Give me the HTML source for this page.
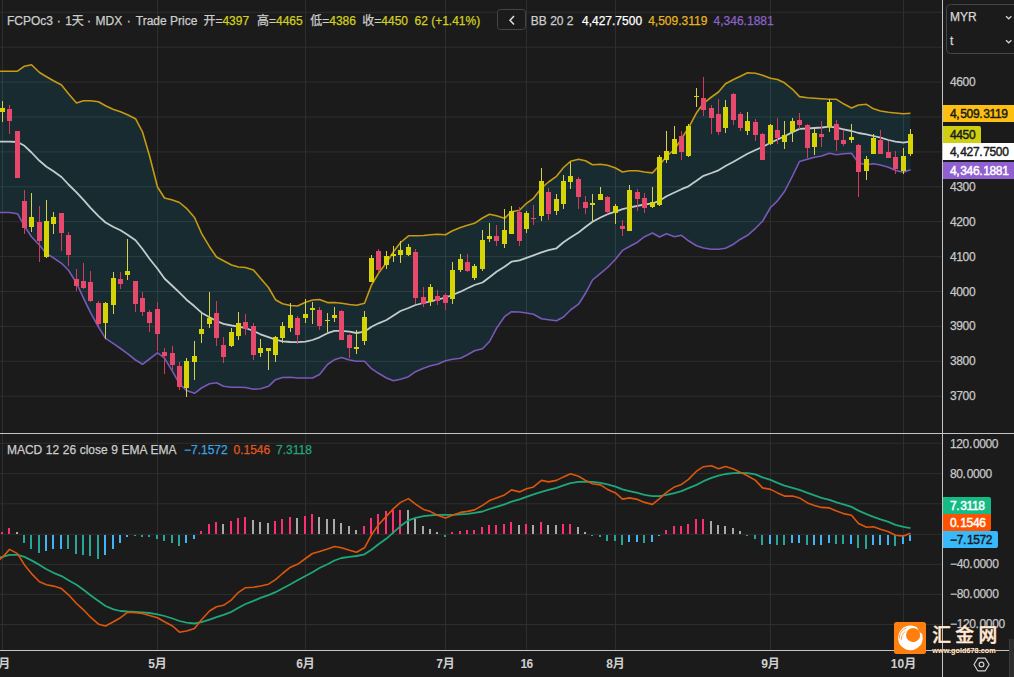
<!DOCTYPE html>
<html><head><meta charset="utf-8"><title>FCPOc3</title>
<style>
html,body{margin:0;padding:0;background:#1b1b1b;}
body{width:1014px;height:677px;overflow:hidden;position:relative;font-family:"Liberation Sans","Noto Sans CJK SC",sans-serif;}
#t i{font-style:normal;letter-spacing:0.69px;}
#t span{position:absolute;white-space:nowrap;line-height:1.117;-webkit-text-stroke:0.25px currentColor;}
</style></head><body>
<svg width="1014" height="677" viewBox="0 0 1014 677" style="position:absolute;left:0;top:0">
<rect width="1014" height="677" fill="#1b1b1b"/>
<path d="M0 12.3H942M0 47.2H942M0 82.1H942M0 117.0H942M0 151.9H942M0 186.8H942M0 221.7H942M0 256.6H942M0 291.5H942M0 326.4H942M0 361.3H942M0 396.2H942M0 443.3H942M0 473.7H942M0 503.8H942M0 534.3H942M0 564.4H942M0 594.4H942M0 624.5H942" stroke="#2e2e2e" stroke-width="1" fill="none"/>
<path d="M2.5 0V433M2.5 434V650M157.5 0V433M157.5 434V650M305.5 0V433M305.5 434V650M445.5 0V433M445.5 434V650M526.5 0V433M526.5 434V650M615.5 0V433M615.5 434V650M770.5 0V433M770.5 434V650M903.5 0V433M903.5 434V650" stroke="#2e2e2e" stroke-width="1" fill="none" shape-rendering="crispEdges"/>
<polygon points="-5.0,71.3 2.5,71.3 9.5,71.3 17.5,71.2 24.5,66.2 31.5,64.7 39.5,72.5 46.5,76.7 53.5,80.8 61.5,85.0 68.5,93.8 76.5,103.0 83.5,100.8 90.5,100.8 98.5,101.7 105.5,105.8 113.5,109.5 120.5,111.7 127.5,114.7 135.5,118.7 142.5,132.0 149.5,155.8 157.5,187.0 164.5,198.0 172.5,200.0 179.5,202.5 186.5,208.3 194.5,217.5 201.5,233.3 209.5,246.7 216.5,257.0 223.5,260.8 231.5,265.0 238.5,267.0 245.5,267.5 253.5,270.0 260.5,278.3 268.5,287.5 275.5,299.7 282.5,303.8 290.5,305.5 297.5,306.0 305.5,302.2 312.5,300.0 319.5,299.5 327.5,302.6 334.5,302.5 341.5,303.3 349.5,304.5 356.5,305.3 364.5,303.3 371.5,285.0 378.5,273.3 386.5,262.5 393.5,251.7 400.5,242.5 408.5,235.8 415.5,235.8 423.5,235.5 430.5,234.7 437.5,234.2 445.5,234.7 452.5,230.8 460.5,227.5 467.5,225.3 474.5,223.3 482.5,218.0 489.5,214.2 496.5,215.8 504.5,218.3 511.5,211.7 519.5,210.3 526.5,203.3 533.5,198.3 541.5,188.0 548.5,182.0 556.5,176.3 563.5,167.5 570.5,161.3 578.5,159.2 585.5,160.8 592.5,164.7 600.5,164.2 607.5,165.3 615.5,168.0 622.5,172.0 629.5,170.8 637.5,170.8 644.5,172.0 652.5,172.9 659.5,165.3 666.5,156.2 674.5,149.5 681.5,138.7 688.5,127.8 696.5,112.8 703.5,103.3 711.5,97.0 718.5,92.0 725.5,83.7 733.5,79.5 740.5,76.2 747.5,72.8 755.5,73.3 762.5,75.3 770.5,78.3 777.5,79.5 784.5,82.8 792.5,89.3 799.5,96.6 807.5,97.7 814.5,98.3 821.5,98.8 829.5,99.3 836.5,99.3 843.5,103.8 851.5,108.0 858.5,105.0 866.5,104.3 873.5,108.8 880.5,111.0 888.5,112.2 895.5,113.0 903.5,113.8 910.5,113.3 910.5,169.7 903.5,172.2 895.5,170.5 888.5,167.2 880.5,165.0 873.5,163.8 866.5,164.7 858.5,163.0 851.5,153.3 843.5,153.8 836.5,154.7 829.5,153.3 821.5,156.0 814.5,157.2 807.5,159.2 799.5,161.5 792.5,176.0 784.5,191.5 777.5,200.8 770.5,207.5 762.5,221.3 755.5,228.3 747.5,235.3 740.5,239.2 733.5,244.2 725.5,248.3 718.5,249.2 711.5,249.2 703.5,248.0 696.5,245.8 688.5,240.8 681.5,235.3 674.5,236.7 666.5,233.7 659.5,237.0 652.5,233.0 644.5,236.7 637.5,242.2 629.5,246.5 622.5,250.4 615.5,259.2 607.5,267.5 600.5,273.3 592.5,280.0 585.5,293.3 578.5,304.2 570.5,310.0 563.5,317.0 556.5,320.8 548.5,319.7 541.5,318.7 533.5,314.2 526.5,313.0 519.5,312.0 511.5,311.7 504.5,316.7 496.5,328.3 489.5,341.5 482.5,348.7 474.5,350.8 467.5,354.7 460.5,358.3 452.5,359.2 445.5,360.8 437.5,364.2 430.5,365.8 423.5,368.3 415.5,371.7 408.5,376.7 400.5,379.2 393.5,380.8 386.5,378.0 378.5,373.3 371.5,368.7 364.5,361.3 356.5,361.3 349.5,360.0 341.5,357.5 334.5,359.7 327.5,364.5 319.5,374.5 312.5,378.0 305.5,378.0 297.5,378.0 290.5,377.2 282.5,377.5 275.5,379.7 268.5,386.3 260.5,388.8 253.5,389.2 245.5,387.5 238.5,387.2 231.5,387.2 223.5,386.3 216.5,382.7 209.5,383.8 201.5,388.0 194.5,393.3 186.5,390.5 179.5,383.8 172.5,371.3 164.5,358.1 157.5,352.8 149.5,359.0 142.5,364.3 135.5,360.0 127.5,353.7 120.5,348.5 113.5,343.7 105.5,338.3 98.5,327.0 90.5,312.7 83.5,298.2 76.5,283.0 68.5,270.3 61.5,263.3 53.5,257.8 46.5,253.7 39.5,245.3 31.5,236.7 24.5,226.2 17.5,213.7 9.5,212.5 2.5,212.5 -5.0,212.5" fill="#172b30"/>
<clipPath id="bbc"><polygon points="-5.0,71.3 2.5,71.3 9.5,71.3 17.5,71.2 24.5,66.2 31.5,64.7 39.5,72.5 46.5,76.7 53.5,80.8 61.5,85.0 68.5,93.8 76.5,103.0 83.5,100.8 90.5,100.8 98.5,101.7 105.5,105.8 113.5,109.5 120.5,111.7 127.5,114.7 135.5,118.7 142.5,132.0 149.5,155.8 157.5,187.0 164.5,198.0 172.5,200.0 179.5,202.5 186.5,208.3 194.5,217.5 201.5,233.3 209.5,246.7 216.5,257.0 223.5,260.8 231.5,265.0 238.5,267.0 245.5,267.5 253.5,270.0 260.5,278.3 268.5,287.5 275.5,299.7 282.5,303.8 290.5,305.5 297.5,306.0 305.5,302.2 312.5,300.0 319.5,299.5 327.5,302.6 334.5,302.5 341.5,303.3 349.5,304.5 356.5,305.3 364.5,303.3 371.5,285.0 378.5,273.3 386.5,262.5 393.5,251.7 400.5,242.5 408.5,235.8 415.5,235.8 423.5,235.5 430.5,234.7 437.5,234.2 445.5,234.7 452.5,230.8 460.5,227.5 467.5,225.3 474.5,223.3 482.5,218.0 489.5,214.2 496.5,215.8 504.5,218.3 511.5,211.7 519.5,210.3 526.5,203.3 533.5,198.3 541.5,188.0 548.5,182.0 556.5,176.3 563.5,167.5 570.5,161.3 578.5,159.2 585.5,160.8 592.5,164.7 600.5,164.2 607.5,165.3 615.5,168.0 622.5,172.0 629.5,170.8 637.5,170.8 644.5,172.0 652.5,172.9 659.5,165.3 666.5,156.2 674.5,149.5 681.5,138.7 688.5,127.8 696.5,112.8 703.5,103.3 711.5,97.0 718.5,92.0 725.5,83.7 733.5,79.5 740.5,76.2 747.5,72.8 755.5,73.3 762.5,75.3 770.5,78.3 777.5,79.5 784.5,82.8 792.5,89.3 799.5,96.6 807.5,97.7 814.5,98.3 821.5,98.8 829.5,99.3 836.5,99.3 843.5,103.8 851.5,108.0 858.5,105.0 866.5,104.3 873.5,108.8 880.5,111.0 888.5,112.2 895.5,113.0 903.5,113.8 910.5,113.3 910.5,169.7 903.5,172.2 895.5,170.5 888.5,167.2 880.5,165.0 873.5,163.8 866.5,164.7 858.5,163.0 851.5,153.3 843.5,153.8 836.5,154.7 829.5,153.3 821.5,156.0 814.5,157.2 807.5,159.2 799.5,161.5 792.5,176.0 784.5,191.5 777.5,200.8 770.5,207.5 762.5,221.3 755.5,228.3 747.5,235.3 740.5,239.2 733.5,244.2 725.5,248.3 718.5,249.2 711.5,249.2 703.5,248.0 696.5,245.8 688.5,240.8 681.5,235.3 674.5,236.7 666.5,233.7 659.5,237.0 652.5,233.0 644.5,236.7 637.5,242.2 629.5,246.5 622.5,250.4 615.5,259.2 607.5,267.5 600.5,273.3 592.5,280.0 585.5,293.3 578.5,304.2 570.5,310.0 563.5,317.0 556.5,320.8 548.5,319.7 541.5,318.7 533.5,314.2 526.5,313.0 519.5,312.0 511.5,311.7 504.5,316.7 496.5,328.3 489.5,341.5 482.5,348.7 474.5,350.8 467.5,354.7 460.5,358.3 452.5,359.2 445.5,360.8 437.5,364.2 430.5,365.8 423.5,368.3 415.5,371.7 408.5,376.7 400.5,379.2 393.5,380.8 386.5,378.0 378.5,373.3 371.5,368.7 364.5,361.3 356.5,361.3 349.5,360.0 341.5,357.5 334.5,359.7 327.5,364.5 319.5,374.5 312.5,378.0 305.5,378.0 297.5,378.0 290.5,377.2 282.5,377.5 275.5,379.7 268.5,386.3 260.5,388.8 253.5,389.2 245.5,387.5 238.5,387.2 231.5,387.2 223.5,386.3 216.5,382.7 209.5,383.8 201.5,388.0 194.5,393.3 186.5,390.5 179.5,383.8 172.5,371.3 164.5,358.1 157.5,352.8 149.5,359.0 142.5,364.3 135.5,360.0 127.5,353.7 120.5,348.5 113.5,343.7 105.5,338.3 98.5,327.0 90.5,312.7 83.5,298.2 76.5,283.0 68.5,270.3 61.5,263.3 53.5,257.8 46.5,253.7 39.5,245.3 31.5,236.7 24.5,226.2 17.5,213.7 9.5,212.5 2.5,212.5 -5.0,212.5"/></clipPath>
<path d="M0 12.3H942M0 47.2H942M0 82.1H942M0 117.0H942M0 151.9H942M0 186.8H942M0 221.7H942M0 256.6H942M0 291.5H942M0 326.4H942M0 361.3H942M0 396.2H942" stroke="#2a4045" stroke-width="1" fill="none" clip-path="url(#bbc)"/>
<path d="M2.5 0V433M157.5 0V433M305.5 0V433M445.5 0V433M526.5 0V433M615.5 0V433M770.5 0V433M903.5 0V433" stroke="#2a4045" stroke-width="1" fill="none" clip-path="url(#bbc)" shape-rendering="crispEdges"/>
<path d="M-5.0 141.7 L2.5 141.7 L9.5 141.7 L17.5 142.0 L24.5 145.8 L31.5 152.5 L39.5 160.8 L46.5 166.7 L53.5 171.3 L61.5 177.0 L68.5 184.5 L76.5 192.3 L83.5 199.8 L90.5 207.8 L98.5 216.2 L105.5 222.5 L113.5 227.0 L120.5 230.3 L127.5 234.7 L135.5 240.3 L142.5 249.0 L149.5 258.7 L157.5 268.7 L164.5 278.5 L172.5 286.0 L179.5 292.7 L186.5 299.7 L194.5 306.3 L201.5 312.7 L209.5 317.2 L216.5 321.0 L223.5 323.8 L231.5 325.5 L238.5 326.7 L245.5 328.0 L253.5 331.0 L260.5 334.3 L268.5 337.2 L275.5 339.7 L282.5 341.3 L290.5 342.0 L297.5 342.2 L305.5 341.7 L312.5 340.0 L319.5 337.3 L327.5 333.2 L334.5 330.8 L341.5 330.8 L349.5 331.7 L356.5 333.0 L364.5 331.7 L371.5 326.7 L378.5 323.3 L386.5 320.0 L393.5 315.5 L400.5 311.0 L408.5 308.0 L415.5 305.0 L423.5 303.0 L430.5 301.3 L437.5 299.7 L445.5 297.5 L452.5 295.0 L460.5 291.7 L467.5 288.3 L474.5 285.0 L482.5 282.5 L489.5 277.3 L496.5 271.7 L504.5 266.7 L511.5 261.7 L519.5 260.4 L526.5 257.8 L533.5 255.3 L541.5 252.3 L548.5 250.2 L556.5 248.3 L563.5 242.3 L570.5 237.5 L578.5 232.5 L585.5 227.0 L592.5 221.7 L600.5 217.5 L607.5 214.2 L615.5 211.7 L622.5 209.2 L629.5 207.5 L637.5 205.8 L644.5 204.5 L652.5 203.3 L659.5 200.8 L666.5 196.3 L674.5 192.5 L681.5 189.2 L688.5 186.3 L696.5 180.8 L703.5 175.8 L711.5 173.0 L718.5 170.3 L725.5 166.0 L733.5 161.7 L740.5 157.7 L747.5 153.7 L755.5 150.0 L762.5 147.0 L770.5 142.8 L777.5 139.5 L784.5 136.3 L792.5 132.1 L799.5 128.9 L807.5 128.5 L814.5 128.0 L821.5 127.5 L829.5 126.7 L836.5 127.7 L843.5 129.3 L851.5 131.0 L858.5 133.0 L866.5 134.3 L873.5 136.0 L880.5 137.7 L888.5 140.0 L895.5 141.7 L903.5 142.7 L910.5 141.3" stroke="#c3cccc" stroke-width="1.8" fill="none" stroke-linejoin="round" stroke-linecap="butt"/>
<path d="M-5.0 71.3 L2.5 71.3 L9.5 71.3 L17.5 71.2 L24.5 66.2 L31.5 64.7 L39.5 72.5 L46.5 76.7 L53.5 80.8 L61.5 85.0 L68.5 93.8 L76.5 103.0 L83.5 100.8 L90.5 100.8 L98.5 101.7 L105.5 105.8 L113.5 109.5 L120.5 111.7 L127.5 114.7 L135.5 118.7 L142.5 132.0 L149.5 155.8 L157.5 187.0 L164.5 198.0 L172.5 200.0 L179.5 202.5 L186.5 208.3 L194.5 217.5 L201.5 233.3 L209.5 246.7 L216.5 257.0 L223.5 260.8 L231.5 265.0 L238.5 267.0 L245.5 267.5 L253.5 270.0 L260.5 278.3 L268.5 287.5 L275.5 299.7 L282.5 303.8 L290.5 305.5 L297.5 306.0 L305.5 302.2 L312.5 300.0 L319.5 299.5 L327.5 302.6 L334.5 302.5 L341.5 303.3 L349.5 304.5 L356.5 305.3 L364.5 303.3 L371.5 285.0 L378.5 273.3 L386.5 262.5 L393.5 251.7 L400.5 242.5 L408.5 235.8 L415.5 235.8 L423.5 235.5 L430.5 234.7 L437.5 234.2 L445.5 234.7 L452.5 230.8 L460.5 227.5 L467.5 225.3 L474.5 223.3 L482.5 218.0 L489.5 214.2 L496.5 215.8 L504.5 218.3 L511.5 211.7 L519.5 210.3 L526.5 203.3 L533.5 198.3 L541.5 188.0 L548.5 182.0 L556.5 176.3 L563.5 167.5 L570.5 161.3 L578.5 159.2 L585.5 160.8 L592.5 164.7 L600.5 164.2 L607.5 165.3 L615.5 168.0 L622.5 172.0 L629.5 170.8 L637.5 170.8 L644.5 172.0 L652.5 172.9 L659.5 165.3 L666.5 156.2 L674.5 149.5 L681.5 138.7 L688.5 127.8 L696.5 112.8 L703.5 103.3 L711.5 97.0 L718.5 92.0 L725.5 83.7 L733.5 79.5 L740.5 76.2 L747.5 72.8 L755.5 73.3 L762.5 75.3 L770.5 78.3 L777.5 79.5 L784.5 82.8 L792.5 89.3 L799.5 96.6 L807.5 97.7 L814.5 98.3 L821.5 98.8 L829.5 99.3 L836.5 99.3 L843.5 103.8 L851.5 108.0 L858.5 105.0 L866.5 104.3 L873.5 108.8 L880.5 111.0 L888.5 112.2 L895.5 113.0 L903.5 113.8 L910.5 113.3" stroke="#c79a12" stroke-width="1.6" fill="none" stroke-linejoin="round" stroke-linecap="butt"/>
<path d="M-5.0 212.5 L2.5 212.5 L9.5 212.5 L17.5 213.7 L24.5 226.2 L31.5 236.7 L39.5 245.3 L46.5 253.7 L53.5 257.8 L61.5 263.3 L68.5 270.3 L76.5 283.0 L83.5 298.2 L90.5 312.7 L98.5 327.0 L105.5 338.3 L113.5 343.7 L120.5 348.5 L127.5 353.7 L135.5 360.0 L142.5 364.3 L149.5 359.0 L157.5 352.8 L164.5 358.1 L172.5 371.3 L179.5 383.8 L186.5 390.5 L194.5 393.3 L201.5 388.0 L209.5 383.8 L216.5 382.7 L223.5 386.3 L231.5 387.2 L238.5 387.2 L245.5 387.5 L253.5 389.2 L260.5 388.8 L268.5 386.3 L275.5 379.7 L282.5 377.5 L290.5 377.2 L297.5 378.0 L305.5 378.0 L312.5 378.0 L319.5 374.5 L327.5 364.5 L334.5 359.7 L341.5 357.5 L349.5 360.0 L356.5 361.3 L364.5 361.3 L371.5 368.7 L378.5 373.3 L386.5 378.0 L393.5 380.8 L400.5 379.2 L408.5 376.7 L415.5 371.7 L423.5 368.3 L430.5 365.8 L437.5 364.2 L445.5 360.8 L452.5 359.2 L460.5 358.3 L467.5 354.7 L474.5 350.8 L482.5 348.7 L489.5 341.5 L496.5 328.3 L504.5 316.7 L511.5 311.7 L519.5 312.0 L526.5 313.0 L533.5 314.2 L541.5 318.7 L548.5 319.7 L556.5 320.8 L563.5 317.0 L570.5 310.0 L578.5 304.2 L585.5 293.3 L592.5 280.0 L600.5 273.3 L607.5 267.5 L615.5 259.2 L622.5 250.4 L629.5 246.5 L637.5 242.2 L644.5 236.7 L652.5 233.0 L659.5 237.0 L666.5 233.7 L674.5 236.7 L681.5 235.3 L688.5 240.8 L696.5 245.8 L703.5 248.0 L711.5 249.2 L718.5 249.2 L725.5 248.3 L733.5 244.2 L740.5 239.2 L747.5 235.3 L755.5 228.3 L762.5 221.3 L770.5 207.5 L777.5 200.8 L784.5 191.5 L792.5 176.0 L799.5 161.5 L807.5 159.2 L814.5 157.2 L821.5 156.0 L829.5 153.3 L836.5 154.7 L843.5 153.8 L851.5 153.3 L858.5 163.0 L866.5 164.7 L873.5 163.8 L880.5 165.0 L888.5 167.2 L895.5 170.5 L903.5 172.2 L910.5 169.7" stroke="#7a58b8" stroke-width="1.6" fill="none" stroke-linejoin="round" stroke-linecap="butt"/>
<path d="M2 101h1v21h-1zM31 193h1v39h-1zM46 200h1v58h-1zM53 212h1v22h-1zM105 302h1v37h-1zM113 272h1v42h-1zM127 239h1v41h-1zM186 358h1v39h-1zM194 341h1v39h-1zM201 313h1v30h-1zM209 292h1v36h-1zM231 328h1v19h-1zM238 312h1v28h-1zM260 339h1v18h-1zM268 348h1v22h-1zM275 336h1v26h-1zM282 322h1v21h-1zM290 303h1v29h-1zM305 299h1v24h-1zM312 302h1v22h-1zM327 313h1v19h-1zM334 307h1v15h-1zM356 330h1v24h-1zM364 311h1v34h-1zM371 255h1v27h-1zM386 251h1v18h-1zM393 246h1v16h-1zM400 241h1v22h-1zM408 244h1v12h-1zM430 284h1v22h-1zM452 262h1v42h-1zM460 254h1v18h-1zM474 264h1v16h-1zM482 230h1v41h-1zM489 223h1v19h-1zM504 209h1v39h-1zM511 206h1v28h-1zM526 211h1v22h-1zM541 168h1v53h-1zM556 194h1v21h-1zM563 175h1v34h-1zM570 162h1v27h-1zM592 194h1v28h-1zM600 187h1v13h-1zM615 204h1v20h-1zM629 185h1v46h-1zM652 187h1v21h-1zM659 155h1v51h-1zM666 131h1v32h-1zM674 126h1v28h-1zM688 124h1v33h-1zM696 88h1v19h-1zM725 100h1v33h-1zM747 112h1v23h-1zM770 124h1v21h-1zM784 121h1v28h-1zM792 118h1v24h-1zM814 128h1v27h-1zM829 99h1v33h-1zM851 124h1v19h-1zM866 156h1v24h-1zM873 134h1v20h-1zM903 148h1v26h-1zM910 129h1v27h-1z" fill="#d4d24a" shape-rendering="crispEdges"/>
<path d="M9 105h1v29h-1zM17 131h1v47h-1zM24 190h1v44h-1zM39 206h1v56h-1zM61 213h1v38h-1zM68 232h1v34h-1zM76 269h1v22h-1zM83 263h1v26h-1zM90 271h1v31h-1zM98 301h1v26h-1zM120 272h1v17h-1zM135 281h1v31h-1zM142 292h1v24h-1zM149 310h1v22h-1zM157 302h1v49h-1zM164 348h1v26h-1zM172 346h1v24h-1zM179 362h1v28h-1zM216 301h1v45h-1zM223 337h1v26h-1zM245 314h1v21h-1zM253 323h1v37h-1zM297 316h1v28h-1zM319 307h1v23h-1zM341 310h1v30h-1zM349 334h1v24h-1zM378 249h1v23h-1zM415 249h1v55h-1zM423 287h1v20h-1zM437 290h1v15h-1zM445 293h1v17h-1zM467 254h1v18h-1zM496 225h1v21h-1zM519 207h1v39h-1zM533 205h1v20h-1zM548 188h1v32h-1zM578 177h1v32h-1zM585 196h1v18h-1zM607 196h1v18h-1zM622 220h1v16h-1zM637 189h1v22h-1zM644 193h1v20h-1zM681 131h1v29h-1zM703 77h1v39h-1zM711 105h1v29h-1zM718 99h1v36h-1zM733 93h1v32h-1zM740 112h1v19h-1zM755 119h1v22h-1zM762 133h1v27h-1zM777 118h1v26h-1zM799 113h1v16h-1zM807 124h1v34h-1zM821 121h1v26h-1zM836 120h1v31h-1zM843 130h1v16h-1zM858 144h1v53h-1zM880 130h1v24h-1zM888 141h1v17h-1zM895 151h1v23h-1z" fill="#d23a5c" shape-rendering="crispEdges"/>
<path d="M0 108h5v4h-5zM29 217h5v10h-5zM44 221h5v36h-5zM51 217h5v7h-5zM103 303h5v20h-5zM111 278h5v27h-5zM125 271h5v4h-5zM184 361h5v27h-5zM192 356h5v6h-5zM199 329h5v5h-5zM207 318h5v6h-5zM229 332h5v14h-5zM236 323h5v13h-5zM258 348h5v5h-5zM266 348h5v3h-5zM273 337h5v18h-5zM280 326h5v12h-5zM288 315h5v13h-5zM303 314h5v4h-5zM310 308h5v2h-5zM325 320h5v1h-5zM332 315h5v3h-5zM354 347h5v2h-5zM362 317h5v24h-5zM369 258h5v24h-5zM384 256h5v9h-5zM391 254h5v2h-5zM398 250h5v5h-5zM406 247h5v8h-5zM428 287h5v15h-5zM450 270h5v29h-5zM458 259h5v11h-5zM472 266h5v12h-5zM480 240h5v29h-5zM487 236h5v3h-5zM502 230h5v14h-5zM509 211h5v23h-5zM524 213h5v16h-5zM539 181h5v35h-5zM554 199h5v12h-5zM561 181h5v23h-5zM568 176h5v6h-5zM590 203h5v2h-5zM598 194h5v6h-5zM613 206h5v7h-5zM627 190h5v41h-5zM650 202h5v5h-5zM657 157h5v48h-5zM664 151h5v9h-5zM672 139h5v15h-5zM686 126h5v30h-5zM694 96h5v1h-5zM723 107h5v21h-5zM745 121h5v10h-5zM768 125h5v19h-5zM782 135h5v7h-5zM790 121h5v11h-5zM812 133h5v14h-5zM827 102h5v25h-5zM849 137h5v3h-5zM864 159h5v12h-5zM871 138h5v16h-5zM901 156h5v15h-5zM908 134h5v20h-5z" fill="#d6d405" shape-rendering="crispEdges"/>
<path d="M7 109h5v12h-5zM15 131h5v47h-5zM22 201h5v27h-5zM37 222h5v19h-5zM59 213h5v20h-5zM66 235h5v20h-5zM74 279h5v7h-5zM81 281h5v7h-5zM88 282h5v19h-5zM96 303h5v21h-5zM118 279h5v5h-5zM133 281h5v23h-5zM140 298h5v14h-5zM147 312h5v11h-5zM155 309h5v25h-5zM162 352h5v4h-5zM170 353h5v12h-5zM177 366h5v21h-5zM214 313h5v25h-5zM221 345h5v12h-5zM243 322h5v7h-5zM251 326h5v29h-5zM295 318h5v17h-5zM317 310h5v16h-5zM339 311h5v29h-5zM347 335h5v13h-5zM376 251h5v19h-5zM413 252h5v46h-5zM421 297h5v7h-5zM435 296h5v5h-5zM443 295h5v8h-5zM465 262h5v9h-5zM494 236h5v5h-5zM517 212h5v29h-5zM531 218h5v1h-5zM546 192h5v22h-5zM576 179h5v18h-5zM583 202h5v6h-5zM605 197h5v15h-5zM620 226h5v3h-5zM635 192h5v7h-5zM642 198h5v10h-5zM679 136h5v16h-5zM701 98h5v12h-5zM709 108h5v10h-5zM716 114h5v18h-5zM731 94h5v26h-5zM738 114h5v14h-5zM753 122h5v13h-5zM760 134h5v26h-5zM775 130h5v8h-5zM797 120h5v5h-5zM805 125h5v23h-5zM819 134h5v3h-5zM834 124h5v16h-5zM841 140h5v4h-5zM856 145h5v27h-5zM878 140h5v14h-5zM886 152h5v6h-5zM893 157h5v12h-5z" fill="#e8486c" shape-rendering="crispEdges"/>
<path d="M1 532h2v2h-2zM8 528h2v6h-2zM200 531h2v3h-2zM208 524h2v10h-2zM215 522h2v12h-2zM230 521h2v13h-2zM237 518h2v16h-2zM244 517h2v17h-2zM274 521h2v13h-2zM281 519h2v15h-2zM289 517h2v17h-2zM304 516h2v18h-2zM311 514h2v20h-2zM363 526h2v8h-2zM370 518h2v16h-2zM377 514h2v20h-2zM385 511h2v23h-2zM392 510h2v24h-2zM399 510h2v24h-2zM451 532h2v2h-2zM459 531h2v3h-2zM466 530h2v4h-2zM473 530h2v4h-2zM481 527h2v7h-2zM488 525h2v9h-2zM495 525h2v9h-2zM503 524h2v10h-2zM510 522h2v12h-2zM525 524h2v10h-2zM540 522h2v12h-2zM562 524h2v10h-2zM569 524h2v10h-2zM665 530h2v4h-2zM673 526h2v8h-2zM680 526h2v8h-2zM687 524h2v10h-2zM695 519h2v15h-2zM702 519h2v15h-2z" fill="#ff2d78" shape-rendering="crispEdges"/>
<path d="M16 532h2v2h-2zM222 524h2v10h-2zM252 520h2v14h-2zM259 522h2v12h-2zM267 523h2v11h-2zM296 518h2v16h-2zM318 517h2v17h-2zM326 519h2v15h-2zM333 519h2v15h-2zM340 523h2v11h-2zM348 526h2v8h-2zM355 530h2v4h-2zM407 510h2v24h-2zM414 519h2v15h-2zM422 526h2v8h-2zM429 529h2v5h-2zM436 532h2v2h-2zM518 525h2v9h-2zM532 525h2v9h-2zM547 525h2v9h-2zM555 525h2v9h-2zM577 527h2v7h-2zM584 532h2v2h-2zM710 521h2v13h-2zM717 525h2v9h-2zM724 526h2v8h-2zM732 528h2v6h-2zM739 531h2v3h-2z" fill="#a9a9a9" shape-rendering="crispEdges"/>
<path d="M23 535h2v8h-2zM30 535h2v14h-2zM38 535h2v18h-2zM67 535h2v14h-2zM75 535h2v19h-2zM82 535h2v20h-2zM89 535h2v21h-2zM97 535h2v24h-2zM134 535h2v1h-2zM141 535h2v2h-2zM148 535h2v2h-2zM156 535h2v4h-2zM163 535h2v6h-2zM171 535h2v8h-2zM178 535h2v11h-2zM444 535h2v2h-2zM591 535h2v1h-2zM599 535h2v2h-2zM606 535h2v6h-2zM614 535h2v6h-2zM621 535h2v10h-2zM643 535h2v8h-2zM746 535h2v1h-2zM754 535h2v4h-2zM761 535h2v10h-2zM776 535h2v10h-2zM783 535h2v10h-2zM806 535h2v10h-2zM835 535h2v9h-2zM842 535h2v9h-2zM857 535h2v13h-2zM865 535h2v14h-2zM894 535h2v11h-2z" fill="#26a69a" shape-rendering="crispEdges"/>
<path d="M45 535h2v16h-2zM52 535h2v14h-2zM60 535h2v14h-2zM104 535h2v20h-2zM112 535h2v14h-2zM119 535h2v8h-2zM126 535h2v2h-2zM185 535h2v8h-2zM193 535h2v4h-2zM628 535h2v7h-2zM636 535h2v7h-2zM651 535h2v7h-2zM658 535h2v1h-2zM769 535h2v9h-2zM791 535h2v8h-2zM798 535h2v8h-2zM813 535h2v10h-2zM820 535h2v10h-2zM828 535h2v8h-2zM850 535h2v9h-2zM872 535h2v10h-2zM879 535h2v10h-2zM887 535h2v10h-2zM902 535h2v9h-2zM909 535h2v6h-2z" fill="#40b4f5" shape-rendering="crispEdges"/>
<path d="M-5.0 558.0 L2.5 556.9 L9.5 554.9 L17.5 554.9 L24.5 556.9 L31.5 560.4 L39.5 564.9 L46.5 569.3 L53.5 572.8 L61.5 576.1 L68.5 580.3 L76.5 584.8 L83.5 589.8 L90.5 595.3 L98.5 601.0 L105.5 606.0 L113.5 609.3 L120.5 611.0 L127.5 611.5 L135.5 611.8 L142.5 612.3 L149.5 613.0 L157.5 614.3 L164.5 616.0 L172.5 618.5 L179.5 621.0 L186.5 622.7 L194.5 623.5 L201.5 622.2 L209.5 619.7 L216.5 617.2 L223.5 614.8 L231.5 611.8 L238.5 607.8 L245.5 604.0 L253.5 600.9 L260.5 597.9 L268.5 595.2 L275.5 592.2 L282.5 588.5 L290.5 584.2 L297.5 580.2 L305.5 576.0 L312.5 572.2 L319.5 568.0 L327.5 564.3 L334.5 560.5 L341.5 558.0 L349.5 556.8 L356.5 556.0 L364.5 554.3 L371.5 549.8 L378.5 544.3 L386.5 538.6 L393.5 532.3 L400.5 526.1 L408.5 520.3 L415.5 517.8 L423.5 516.1 L430.5 515.3 L437.5 514.9 L445.5 514.9 L452.5 514.9 L460.5 514.4 L467.5 513.9 L474.5 512.9 L482.5 511.5 L489.5 509.0 L496.5 506.9 L504.5 504.4 L511.5 501.6 L519.5 499.4 L526.5 496.9 L533.5 494.4 L541.5 491.9 L548.5 489.9 L556.5 487.9 L563.5 485.4 L570.5 483.2 L578.5 481.9 L585.5 481.7 L592.5 481.9 L600.5 482.9 L607.5 484.4 L615.5 486.7 L622.5 489.4 L629.5 491.1 L637.5 492.9 L644.5 494.9 L652.5 496.1 L659.5 496.1 L666.5 494.9 L674.5 493.1 L681.5 491.1 L688.5 488.2 L696.5 484.9 L703.5 481.2 L711.5 477.9 L718.5 475.7 L725.5 474.0 L733.5 473.1 L740.5 472.9 L747.5 473.2 L755.5 474.4 L762.5 477.4 L770.5 479.9 L777.5 482.9 L784.5 485.7 L792.5 487.9 L799.5 489.9 L807.5 492.9 L814.5 495.4 L821.5 497.9 L829.5 499.9 L836.5 502.4 L843.5 504.4 L851.5 506.9 L858.5 510.6 L866.5 514.1 L873.5 516.8 L880.5 519.3 L888.5 521.8 L895.5 524.8 L903.5 526.8 L910.5 528.1" stroke="#1fa67a" stroke-width="1.8" fill="none" stroke-linejoin="round" stroke-linecap="butt"/>
<path d="M-5.0 563.0 L2.5 557.4 L9.5 549.4 L17.5 553.6 L24.5 564.9 L31.5 573.6 L39.5 581.8 L46.5 584.8 L53.5 586.1 L61.5 588.6 L68.5 594.8 L76.5 603.5 L83.5 609.8 L90.5 617.2 L98.5 624.2 L105.5 626.0 L113.5 621.7 L120.5 617.7 L127.5 612.3 L135.5 612.8 L142.5 613.5 L149.5 615.5 L157.5 617.7 L164.5 621.7 L172.5 626.0 L179.5 632.2 L186.5 631.0 L194.5 628.5 L201.5 619.7 L209.5 611.0 L216.5 606.8 L223.5 605.3 L231.5 599.8 L238.5 592.3 L245.5 587.7 L253.5 587.2 L260.5 586.0 L268.5 584.2 L275.5 579.7 L282.5 573.5 L290.5 567.2 L297.5 564.3 L305.5 558.5 L312.5 553.5 L319.5 551.5 L327.5 549.0 L334.5 546.5 L341.5 547.8 L349.5 550.3 L356.5 552.3 L364.5 547.8 L371.5 534.8 L378.5 524.8 L386.5 516.1 L393.5 508.6 L400.5 502.4 L408.5 498.6 L415.5 504.1 L423.5 509.4 L430.5 511.6 L437.5 515.3 L445.5 518.1 L452.5 515.3 L460.5 512.4 L467.5 511.4 L474.5 509.9 L482.5 505.4 L489.5 500.6 L496.5 497.9 L504.5 494.9 L511.5 489.9 L519.5 491.9 L526.5 488.7 L533.5 486.9 L541.5 480.4 L548.5 481.9 L556.5 480.4 L563.5 476.9 L570.5 473.7 L578.5 476.2 L585.5 480.4 L592.5 483.7 L600.5 484.9 L607.5 489.4 L615.5 492.9 L622.5 499.1 L629.5 497.9 L637.5 499.4 L644.5 502.4 L652.5 504.4 L659.5 498.6 L666.5 492.4 L674.5 486.9 L681.5 484.4 L688.5 479.4 L696.5 471.2 L703.5 466.7 L711.5 465.7 L718.5 468.7 L725.5 466.5 L733.5 469.0 L740.5 472.4 L747.5 475.7 L755.5 480.4 L762.5 487.9 L770.5 489.4 L777.5 492.9 L784.5 496.1 L792.5 496.1 L799.5 497.9 L807.5 502.9 L814.5 505.4 L821.5 507.4 L829.5 507.9 L836.5 511.1 L843.5 513.6 L851.5 515.3 L858.5 523.6 L866.5 527.3 L873.5 526.8 L880.5 529.3 L888.5 531.8 L895.5 535.3 L903.5 536.1 L910.5 533.2" stroke="#dc560c" stroke-width="1.6" fill="none" stroke-linejoin="round" stroke-linecap="butt"/>
<rect x="0" y="433" width="1014" height="1" fill="#c4c4c4"/>
<rect x="0" y="650" width="1009" height="1" fill="#c4c4c4"/>
<rect x="942" y="0" width="1" height="677" fill="#c4c4c4"/>
<rect x="1009" y="639" width="5" height="38" fill="#2c2c2c"/>
<rect x="1009" y="639" width="1" height="38" fill="#3a3a3a"/>
<rect x="943" y="105" width="71" height="17" fill="#fdc010"/>
<path d="M943 126h36a2 2 0 0 1 2 2v15h-38z" fill="#cfcf12"/>
<rect x="943" y="143" width="71" height="17" fill="#ffffff"/>
<rect x="943" y="162" width="71" height="17" fill="#9060d0"/>
<path d="M943 497h46a2 2 0 0 1 2 2v15h-48z" fill="#14bb84"/>
<path d="M943 514h48v15a2 2 0 0 1 -2 2h-46z" fill="#ff5200"/>
<path d="M943 531h53a2 2 0 0 1 2 2v13a2 2 0 0 1 -2 2h-53z" fill="#37b9fb"/>
<rect x="946.5" y="4.5" width="80" height="49" rx="4" fill="none" stroke="#464646"/>
<path d="M1006 16.2l2.7 2.6l2.7-2.6M1006 40.2l2.7 2.6l2.7-2.6" stroke="#d0d0d0" stroke-width="1.3" fill="none"/>
<rect x="497.5" y="9.5" width="28" height="20" rx="3" fill="#1b1b1b" stroke="#454545"/>
<path d="M514 16l-4 4.2l4 4.2" stroke="#e0e0e0" stroke-width="1.5" fill="none"/>
<path d="M974 664.5l3.8-6.3h7.5l3.8 6.3l-3.8 6.3h-7.5z" stroke="#cfcfcf" stroke-width="1.2" fill="none" stroke-linejoin="round"/><circle cx="981.5" cy="664.5" r="2.4" stroke="#cfcfcf" stroke-width="1.2" fill="none"/>
<rect x="894" y="622" width="32" height="32" rx="2.5" fill="#ff7f0e"/>
<circle cx="910.4" cy="637.9" r="12.3" fill="#fff"/>
<circle cx="913.1" cy="635.1" r="7.1" fill="#ff7f0e"/>
<path d="M916.8 627.2L923.5 625L923 634L919.9 632.4z" fill="#ff7f0e"/>
<path d="M899.3 638.5 A11.2 11.2 0 0 1 906.5 628 M901.2 640 A10 10 0 0 1 905 631.5" stroke="#ff7f0e" stroke-width="0.7" fill="none"/>
</svg>
<div id="t">
<span style="left:7.0px;top:15.14px;font-size:12px;color:#cdcdcd;font-weight:normal;">FCPOc3</span>
<span style="left:56.7px;top:15.14px;font-size:12px;color:#cdcdcd;font-weight:normal;">·</span>
<span style="left:65.2px;top:15.14px;font-size:12px;color:#cdcdcd;font-weight:normal;">1天</span>
<span style="left:86.9px;top:15.14px;font-size:12px;color:#cdcdcd;font-weight:normal;">·</span>
<span style="left:95.6px;top:15.14px;font-size:12px;color:#cdcdcd;font-weight:normal;">MDX</span>
<span style="left:126.8px;top:15.14px;font-size:12px;color:#cdcdcd;font-weight:normal;">·</span>
<span style="left:135.8px;top:15.14px;font-size:12px;color:#cdcdcd;font-weight:normal;">Trade Price</span>
<span style="left:203.4px;top:15.14px;font-size:12px;color:#cdcdcd;font-weight:normal;">开=<b style="font-weight:normal;color:#d2d01e">4397</b></span>
<span style="left:257px;top:15.14px;font-size:12px;color:#cdcdcd;font-weight:normal;">高=<b style="font-weight:normal;color:#d2d01e">4465</b></span>
<span style="left:310.2px;top:15.14px;font-size:12px;color:#cdcdcd;font-weight:normal;">低=<b style="font-weight:normal;color:#d2d01e">4386</b></span>
<span style="left:362.3px;top:15.14px;font-size:12px;color:#cdcdcd;font-weight:normal;">收=<b style="font-weight:normal;color:#d2d01e">4450</b></span>
<span style="left:414.5px;top:15.14px;font-size:12px;color:#d2d01e;font-weight:normal;">62 (+1.41%)</span>
<span style="left:530.8px;top:15.14px;font-size:12px;color:#cdcdcd;font-weight:normal;">BB 20 2</span>
<span style="left:582px;top:15.14px;font-size:12px;color:#ffffff;font-weight:normal;">4,427.7500</span>
<span style="left:648.2px;top:15.14px;font-size:12px;color:#e6b41e;font-weight:normal;">4,509.3119</span>
<span style="left:713.6px;top:15.14px;font-size:12px;color:#8b63c9;font-weight:normal;">4,346.1881</span>
<span style="left:6.9px;top:443.74px;font-size:12px;color:#cdcdcd;font-weight:normal;word-spacing:0.26px;">MACD 12 26 close 9 EMA EMA</span>
<span style="left:184px;top:443.74px;font-size:12px;color:#3aa2e6;font-weight:normal;">−7.1572</span>
<span style="left:233.5px;top:443.74px;font-size:12px;color:#e0581a;font-weight:normal;">0.1546</span>
<span style="left:276px;top:443.74px;font-size:12px;color:#20a67c;font-weight:normal;">7.3118</span>
<span style="left:950px;top:11.14px;font-size:12px;color:#d8d8d8;font-weight:normal;">MYR</span>
<span style="left:950px;top:34.94px;font-size:12px;color:#d8d8d8;font-weight:normal;">t</span>
<span style="left:950px;top:76.14px;font-size:12px;color:#c8c8c8;font-weight:normal;letter-spacing:-0.38px;">4600</span>
<span style="left:950px;top:180.84px;font-size:12px;color:#c8c8c8;font-weight:normal;letter-spacing:-0.38px;">4300</span>
<span style="left:950px;top:215.74px;font-size:12px;color:#c8c8c8;font-weight:normal;letter-spacing:-0.38px;">4200</span>
<span style="left:950px;top:250.64px;font-size:12px;color:#c8c8c8;font-weight:normal;letter-spacing:-0.38px;">4100</span>
<span style="left:950px;top:285.54px;font-size:12px;color:#c8c8c8;font-weight:normal;letter-spacing:-0.38px;">4000</span>
<span style="left:950px;top:320.44px;font-size:12px;color:#c8c8c8;font-weight:normal;letter-spacing:-0.38px;">3900</span>
<span style="left:950px;top:355.34px;font-size:12px;color:#c8c8c8;font-weight:normal;letter-spacing:-0.38px;">3800</span>
<span style="left:950px;top:390.24px;font-size:12px;color:#c8c8c8;font-weight:normal;letter-spacing:-0.38px;">3700</span>
<span style="left:950px;top:438.24px;font-size:12px;color:#c8c8c8;font-weight:normal;letter-spacing:-0.38px;">120<i>.</i>0000</span>
<span style="left:950px;top:467.94px;font-size:12px;color:#c8c8c8;font-weight:normal;letter-spacing:-0.38px;">80<i>.</i>0000</span>
<span style="left:950px;top:557.84px;font-size:12px;color:#c8c8c8;font-weight:normal;letter-spacing:-0.38px;">−40<i>.</i>0000</span>
<span style="left:950px;top:587.84px;font-size:12px;color:#c8c8c8;font-weight:normal;letter-spacing:-0.38px;">−80<i>.</i>0000</span>
<span style="left:950px;top:618.14px;font-size:12px;color:#c8c8c8;font-weight:normal;letter-spacing:-0.38px;">−120<i>.</i>0000</span>
<span style="left:950px;top:108.14px;font-size:12px;color:#1b1b1b;font-weight:normal;letter-spacing:-0.38px;-webkit-text-stroke:0.45px currentColor;">4<i>,</i>509<i>.</i>3119</span>
<span style="left:950px;top:129.14px;font-size:12px;color:#1b1b1b;font-weight:normal;letter-spacing:-0.38px;-webkit-text-stroke:0.45px currentColor;">4450</span>
<span style="left:950px;top:146.14px;font-size:12px;color:#1b1b1b;font-weight:normal;letter-spacing:-0.38px;-webkit-text-stroke:0.45px currentColor;">4<i>,</i>427<i>.</i>7500</span>
<span style="left:950px;top:165.14px;font-size:12px;color:#ffffff;font-weight:normal;letter-spacing:-0.38px;-webkit-text-stroke:0.45px currentColor;">4<i>,</i>346<i>.</i>1881</span>
<span style="left:950px;top:500.14px;font-size:12px;color:#ffffff;font-weight:normal;letter-spacing:-0.38px;-webkit-text-stroke:0.45px currentColor;">7<i>.</i>3118</span>
<span style="left:950px;top:517.14px;font-size:12px;color:#ffffff;font-weight:normal;letter-spacing:-0.38px;-webkit-text-stroke:0.45px currentColor;">0<i>.</i>1546</span>
<span style="left:950px;top:534.14px;font-size:12px;color:#1b1b1b;font-weight:normal;letter-spacing:-0.38px;-webkit-text-stroke:0.45px currentColor;">−7<i>.</i>1572</span>
<span style="left:127.5px;width:60px;text-align:center;top:658.24px;font-size:12px;color:#d0d0d0;font-weight:bold;-webkit-text-stroke:0;">5月</span>
<span style="left:275.5px;width:60px;text-align:center;top:658.24px;font-size:12px;color:#d0d0d0;font-weight:bold;-webkit-text-stroke:0;">6月</span>
<span style="left:415.5px;width:60px;text-align:center;top:658.24px;font-size:12px;color:#d0d0d0;font-weight:bold;-webkit-text-stroke:0;">7月</span>
<span style="left:496.5px;width:60px;text-align:center;top:658.24px;font-size:12px;color:#d0d0d0;font-weight:bold;-webkit-text-stroke:0;letter-spacing:-0.7px;">16</span>
<span style="left:585.5px;width:60px;text-align:center;top:658.24px;font-size:12px;color:#d0d0d0;font-weight:bold;-webkit-text-stroke:0;">8月</span>
<span style="left:740.5px;width:60px;text-align:center;top:658.24px;font-size:12px;color:#d0d0d0;font-weight:bold;-webkit-text-stroke:0;">9月</span>
<span style="left:873.5px;width:60px;text-align:center;top:658.24px;font-size:12px;color:#d0d0d0;font-weight:bold;-webkit-text-stroke:0;">10月</span>
<span style="left:-29.0px;width:60px;text-align:center;top:658.24px;font-size:12px;color:#d0d0d0;font-weight:bold;-webkit-text-stroke:0">4月</span>
<span style="left:932.2px;top:623.0px;font-size:18.8px;line-height:26px;color:#ffeadb;font-family:'Liberation Sans','Noto Sans CJK SC',sans-serif;font-weight:500;-webkit-text-stroke:0.35px #ffeadb;text-shadow:0 0 1px #7a3a00;letter-spacing:4.4px">汇金网</span>
<span style="left:932.3px;top:646.2px;font-size:7.3px;line-height:10px;color:#ffeadb;font-weight:bold;text-shadow:0 0 1px #7a3a00;-webkit-text-stroke:0">www.gold678.com</span>
</div>
</body></html>
